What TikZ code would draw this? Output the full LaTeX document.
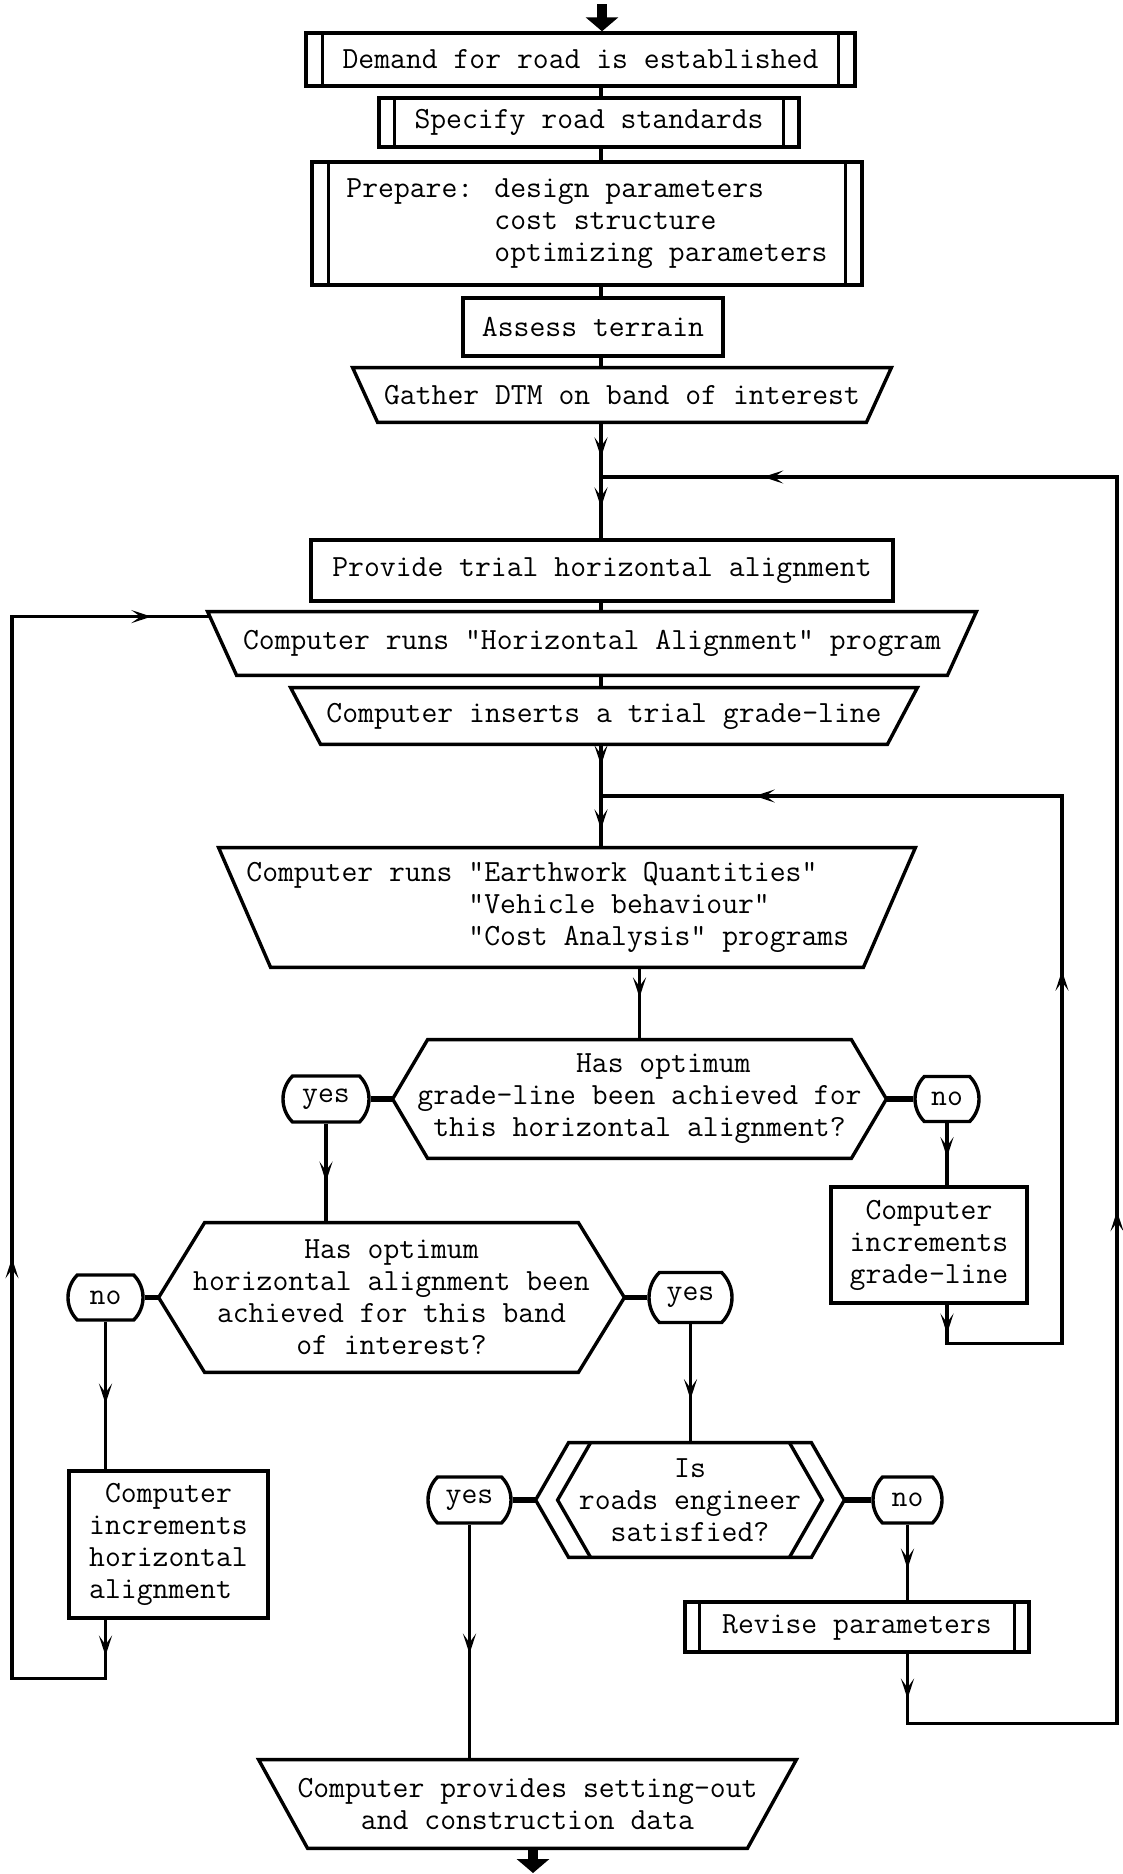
\documentclass[tikz,border=0pt]{standalone}
\usepackage{fontspec}
\usetikzlibrary{arrows.meta,calc,shapes.misc,decorations.markings}
\newcommand\tfont{\ttfamily\addfontfeatures{FakeBold=0.8}\fontsize{15.4pt}{16pt}\selectfont}
\tikzset{
  shp/.style={draw, line width=1.7pt},
  lbl/.style={font=\tfont, inner sep=0pt, align=center},
  boxn/.style={shp, lbl, rectangle},
  bb/.style={lbl, rectangle, draw=none},
  oval/.style={shp, lbl, rounded rectangle, rounded rectangle arc length=90},
  conn/.style={line width=1.6pt},
  stub/.style={line width=2.8pt},
  arrowat/.style={postaction={decorate, decoration={markings, mark=at position #1 with {\arrow{Stealth[length=10pt,width=6.5pt,inset=4.5pt]}}}}},
  blockarr/.style={line width=5pt, -{Triangle[length=7pt,width=16pt]}},
}
\newcommand\procbars[2]{%
  \draw[shp] ($(#1.north west)+(#2,0)$) -- ($(#1.south west)+(#2,0)$);
  \draw[shp] ($(#1.north east)+(-#2,0)$) -- ($(#1.south east)+(-#2,0)$);}
\newcommand\drawtrap[2]{%
  \draw[shp] (#1.north west) -- (#1.north east) -- ($(#1.south east)+(-#2,0)$) -- ($(#1.south west)+(#2,0)$) -- cycle;}
\newcommand\drawhex[2]{%
  \draw[shp] ($(#1.north west)+(#2,0)$) -- ($(#1.north east)+(-#2,0)$) -- (#1.east) -- ($(#1.south east)+(-#2,0)$) -- ($(#1.south west)+(#2,0)$) -- (#1.west) -- cycle;}
\begin{document}
\begin{tikzpicture}[x=0.5pt,y=-0.5pt]
\fill[white] (0,0) rectangle (1123,1874);
\useasboundingbox (0,0) rectangle (1123,1874);
\coordinate (mx) at (601,0);
\coordinate (start) at (602,4);
\coordinate (endp) at (533,1873);
\coordinate (j1) at (601,477);
\coordinate (j2) at (601,796);
\coordinate (lx) at (12,0);
\coordinate (rx) at (1117,0);
\coordinate (ix) at (1062,0);

% top part
\node[boxn, minimum width=274.5pt, minimum height=26.5pt] (demand) at (580.5,59.5) {Demand for road is established};
\procbars{demand}{18}
\node[boxn, minimum width=210pt, minimum height=24.5pt] (specify) at (589,122.5) {Specify road standards};
\procbars{specify}{17}
\node[boxn, align=left, minimum width=275pt, minimum height=61.5pt] (prepare) at (587,223.5) {Prepare: design parameters\\\hphantom{Prepare: }cost structure\\\hphantom{Prepare: }optimizing parameters};
\procbars{prepare}{18}
\node[boxn, minimum width=130pt, minimum height=29pt] (assess) at (593,327) {Assess terrain};
\node[bb, minimum width=269pt, minimum height=27pt] (gather) at (622,395) {Gather DTM on band of interest};
\drawtrap{gather}{25}
\node[boxn, minimum width=291pt, minimum height=30.5pt] (provide) at (602,570.5) {Provide trial horizontal alignment};
\node[bb, minimum width=384pt, minimum height=31.5pt] (ha) at (592,643.5) {Computer runs "Horizontal Alignment" program};
\drawtrap{ha}{29}
\coordinate (haL) at ($(ha.north west)+(2,5)$);
\node[bb, minimum width=313pt, minimum height=28pt] (inserts) at (604,716) {Computer inserts a trial grade-line};
\drawtrap{inserts}{30}
\node[bb, minimum width=348pt, minimum height=59.5pt] (earth) at (567,907.5) {};
\drawtrap{earth}{52}
\node[lbl, align=left, anchor=west] (earthtxt) at (246,907.5) {Computer runs "Earthwork Quantities"\\\hphantom{Computer runs }"Vehicle behaviour"\\\hphantom{Computer runs }"Cost Analysis" programs};

% decision 1
\node[bb, minimum width=246.5pt, minimum height=59pt] (hex1) at (639.5,1099) {\hphantom{xxx}Has optimum\\grade-line been achieved for\\this horizontal alignment?};
\drawhex{hex1}{35}
\node[oval, minimum width=43pt, minimum height=23pt] (yes1) at (326,1099) {yes};
\node[oval, minimum width=32pt, minimum height=22.5pt] (no1) at (947,1099) {no};
\node[boxn, minimum width=98pt, minimum height=58pt] (cigl) at (929,1245) {Computer\\increments\\grade-line};

% decision 2
\node[bb, minimum width=232.5pt, minimum height=74.5pt] (hex2) at (391.5,1297.5) {Has optimum\\horizontal alignment been\\achieved for this band\\of interest?};
\drawhex{hex2}{46}
\node[oval, minimum width=37.5pt, minimum height=22.5pt] (no2) at (105.5,1297.5) {no};
\node[oval, minimum width=41.5pt, minimum height=25pt] (yes2) at (690.5,1297.5) {yes};
\node[boxn, align=left, minimum width=99.5pt, minimum height=73.5pt] (ciha) at (168.5,1544.5) {\hphantom{x}Computer\\increments\\horizontal\\alignment};

% decision 3
\node[bb, minimum width=154pt, minimum height=57pt] (hex3) at (690,1500) {Is\\roads engineer\\satisfied?};
\drawhex{hex3}{33}
\draw[shp] ($(hex3.north west)+(55,0)$) -- ($(hex3.west)+(22,0)$) -- ($(hex3.south west)+(55,0)$);
\draw[shp] ($(hex3.north east)+(-55,0)$) -- ($(hex3.east)+(-22,0)$) -- ($(hex3.south east)+(-55,0)$);
\node[oval, minimum width=41.5pt, minimum height=23pt] (yes3) at (469.5,1500) {yes};
\node[oval, minimum width=34.5pt, minimum height=23pt] (no3) at (907.5,1500) {no};
\node[boxn, minimum width=172pt, minimum height=25pt] (revise) at (857,1627) {Revise parameters};
\procbars{revise}{16}
\node[bb, minimum width=268.5pt, minimum height=44pt] (final) at (527.5,1804) {Computer provides setting-out\\and construction data};
\drawtrap{final}{49}

% connectors
\draw[blockarr] (start) -- (start |- demand.north);
\draw[conn] (mx |- demand.south) -- (mx |- specify.north);
\draw[conn] (mx |- specify.south) -- (mx |- prepare.north);
\draw[conn] (mx |- prepare.south) -- (mx |- assess.north);
\draw[conn] (mx |- assess.south) -- (mx |- gather.north);
\draw[conn, arrowat=17.5pt, arrowat=42.5pt] (mx |- gather.south) -- (mx |- provide.north);
\draw[conn] (mx |- provide.south) -- (mx |- ha.north);
\draw[conn] (mx |- ha.south) -- (mx |- inserts.north);
\draw[conn, arrowat=10.5pt, arrowat=42.5pt] (mx |- inserts.south) -- (mx |- earth.north);
\draw[conn, arrowat=15pt] (hex1.north |- earth.south) -- (hex1.north);
\draw[stub] (yes1.east) -- (hex1.west);
\draw[stub] (hex1.east) -- (no1.west);
\draw[conn, arrowat=29pt] (yes1.south) -- (yes1.south |- hex2.north);
\draw[conn, arrowat=17pt] (no1.south) -- (no1.south |- cigl.north);
\draw[conn, arrowat=14.5pt, arrowat=263.5pt, arrowat=504.5pt] (no1.south |- cigl.south) -- ++(0,39) -| (ix |- j2) -- (j2);
\draw[stub] (no2.east) -- (hex2.west);
\draw[stub] (hex2.east) -- (yes2.west);
\draw[conn, arrowat=41pt] (no2.south) -- (no2.south |- ciha.north);
\draw[conn, arrowat=18pt, arrowat=286.5pt, arrowat=677pt] (no2.south |- ciha.south) -- ++(0,59) -| (lx |- haL) -- (haL);
\draw[conn, arrowat=37.5pt] (yes2.south) -- (yes2.south |- hex3.north);
\draw[stub] (yes3.east) -- (hex3.west);
\draw[stub] (hex3.east) -- (no3.west);
\draw[conn, arrowat=64.5pt] (yes3.south) -- (yes3.south |- final.north);
\draw[conn, arrowat=22pt] (no3.south) -- (no3.south |- revise.north);
\draw[conn, arrowat=22.5pt, arrowat=396pt, arrowat=940pt] (no3.south |- revise.south) -- ++(0,70) -| (rx |- j1) -- (j1);
\draw[blockarr] (endp |- final.south) -- (endp);
\end{tikzpicture}
\end{document}
